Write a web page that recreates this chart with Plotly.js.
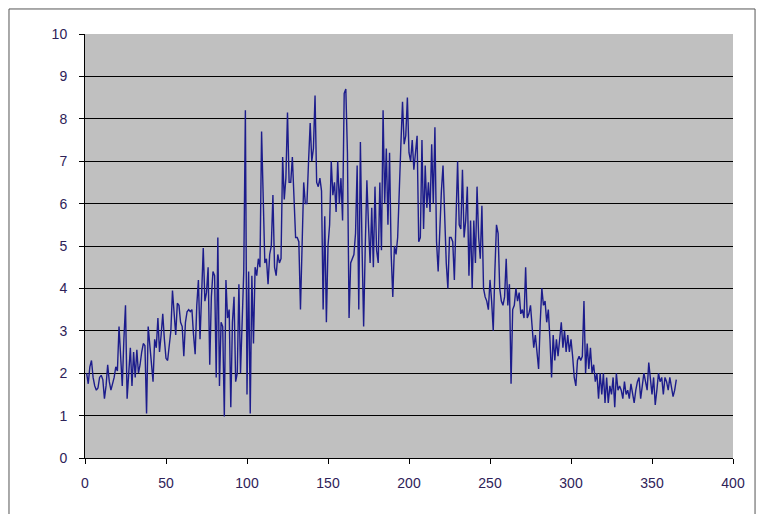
<!DOCTYPE html>
<html>
<head>
<meta charset="utf-8">
<script src="https://cdn.plot.ly/plotly-3.0.1.min.js"></script>
<style>html,body{margin:0;padding:0;background:#fff;}#chart{width:765px;height:514px;}</style>
</head>
<body>
<div id="chart"></div>
<script>
const values = [
2.0, 1.75, 2.15, 2.3, 1.9, 1.7, 1.6, 1.65, 1.9, 1.95,
1.85, 1.4, 1.7, 2.2, 1.8, 1.6, 1.75, 1.9, 2.15, 2.05,
3.1, 2.4, 1.7, 2.8, 3.6, 1.4, 2.0, 2.6, 1.7, 2.5,
1.9, 2.55, 2.0, 2.2, 2.5, 2.7, 2.65, 1.05, 3.1, 2.7,
2.2, 1.8, 2.8, 2.6, 3.3, 2.5, 2.9, 3.4, 2.8, 2.35,
2.3, 2.6, 3.0, 3.95, 3.3, 2.9, 3.65, 3.6, 3.2, 3.1,
2.4, 3.2, 3.45, 3.5, 3.45, 3.5, 2.9, 2.45, 3.6, 4.2,
2.8, 3.7, 4.95, 3.7, 3.9, 4.5, 2.2, 3.8, 4.4, 4.3,
1.9, 5.2, 1.7, 3.2, 3.1, 0.98, 4.2, 3.3, 3.5, 1.2,
3.2, 3.8, 1.8, 2.0, 4.1, 2.0, 3.5, 4.4, 8.2, 1.5,
4.4, 1.05, 4.3, 2.7, 4.5, 4.3, 4.7, 4.5, 7.7, 6.0,
4.6, 4.7, 4.1, 4.8, 5.0, 6.2, 4.5, 4.3, 4.8, 4.6,
4.7, 7.1, 6.1, 6.6, 8.15, 6.5, 6.5, 7.1, 6.3, 5.2,
5.2, 5.1, 3.5, 5.0, 6.5, 6.0, 6.0, 7.0, 7.9, 7.0,
7.3, 8.55, 6.5, 6.4, 6.6, 6.3, 3.5, 5.7, 3.2, 5.0,
5.5, 7.0, 6.2, 6.5, 5.8, 7.0, 6.0, 6.6, 5.6, 8.6,
8.7, 7.2, 3.3, 4.6, 4.7, 4.8, 5.3, 6.9, 3.5, 7.45,
5.0, 3.1, 5.0, 6.55, 5.5, 4.6, 5.9, 4.5, 6.4, 4.9,
4.6, 6.5, 4.9, 8.2, 6.0, 7.3, 5.5, 7.2, 4.8, 3.8,
5.0, 4.8, 5.2, 6.5, 7.4, 8.4, 7.4, 7.6, 8.5, 7.2,
7.0, 7.5, 6.8, 7.2, 7.6, 5.1, 5.2, 7.5, 5.4, 6.9,
5.9, 6.5, 5.8, 7.4, 6.0, 7.8, 5.1, 4.4, 5.5, 6.3,
6.9, 5.5, 4.6, 4.0, 5.2, 5.2, 5.1, 4.2, 5.6, 7.0,
5.5, 5.4, 6.8, 5.2, 5.6, 6.4, 4.3, 5.6, 4.0, 5.6,
4.6, 6.4, 5.2, 4.7, 5.95, 4.0, 3.8, 3.7, 3.5, 4.2,
3.7, 3.0, 4.4, 5.5, 5.3, 4.0, 3.7, 3.6, 3.8, 4.7,
3.6, 4.1, 1.75, 3.5, 3.6, 4.0, 3.7, 3.9, 3.4, 3.5,
3.3, 4.5, 3.3, 3.4, 3.6, 3.0, 2.6, 2.9, 2.5, 2.1,
3.2, 4.0, 3.6, 3.7, 3.2, 3.5, 2.8, 1.9, 2.9, 2.3,
2.8, 2.4, 2.8, 3.2, 2.6, 3.0, 2.5, 2.9, 2.5, 2.8,
2.4, 1.9, 1.7, 2.3, 2.4, 2.3, 2.4, 3.7, 2.0, 2.7,
2.1, 2.6, 2.0, 2.2, 1.8, 2.0, 1.4, 2.0, 1.5, 2.0,
1.3, 1.9, 1.3, 1.7, 1.5, 1.9, 1.2, 2.0, 1.6, 1.7,
1.6, 1.4, 1.8, 1.5, 1.6, 1.4, 1.75, 1.5, 1.3, 1.6,
1.8, 1.9, 1.4, 1.7, 2.0, 1.8, 1.6, 2.25, 1.8, 1.5,
1.9, 1.25, 1.6, 2.0, 1.8, 1.9, 1.5, 1.9, 1.8, 1.6,
1.9, 1.7, 1.45, 1.6, 1.85
];
const days = values.map((v, i) => i + 1);
const xTicks = [0, 50, 100, 150, 200, 250, 300, 350, 400];
const yTicks = [0, 1, 2, 3, 4, 5, 6, 7, 8, 9, 10];

const labelFont = {family: 'Liberation Sans, Arial, sans-serif', size: 14, color: '#2e2258'};

Plotly.newPlot('chart', [{
  x: days, y: values, type: 'scatter', mode: 'lines',
  line: {color: '#1c1c8c', width: 1.4},
  hoverinfo: 'x+y'
}], {
  width: 765, height: 514,
  margin: {l: 85, r: 32, t: 34, b: 56, pad: 0},
  paper_bgcolor: '#ffffff',
  plot_bgcolor: '#c0c0c0',
  showlegend: false,
  xaxis: {
    range: [0, 400], tickvals: xTicks, ticktext: xTicks.map(String),
    showgrid: false, zeroline: false,
    showline: true, linecolor: '#000', linewidth: 1,
    ticks: 'outside', ticklen: 5, tickcolor: '#000',
    tickfont: labelFont, ticklabelstandoff: 7
  },
  yaxis: {
    range: [0, 10], tickvals: yTicks, ticktext: yTicks.map(String),
    showgrid: true, gridcolor: '#000', gridwidth: 1, zeroline: false,
    showline: true, linecolor: '#000', linewidth: 1,
    ticks: 'outside', ticklen: 5, tickcolor: '#000',
    tickfont: labelFont, ticklabelstandoff: 9
  },
  shapes: [{
    type: 'rect', xref: 'paper', yref: 'paper',
    x0: -0.1173, x1: 1.034, y0: -0.2, y1: 1.059,
    line: {color: '#555555', width: 1}, fillcolor: 'rgba(0,0,0,0)', layer: 'below'
  }]
}, {displayModeBar: false, staticPlot: true});
</script>
</body>
</html>
